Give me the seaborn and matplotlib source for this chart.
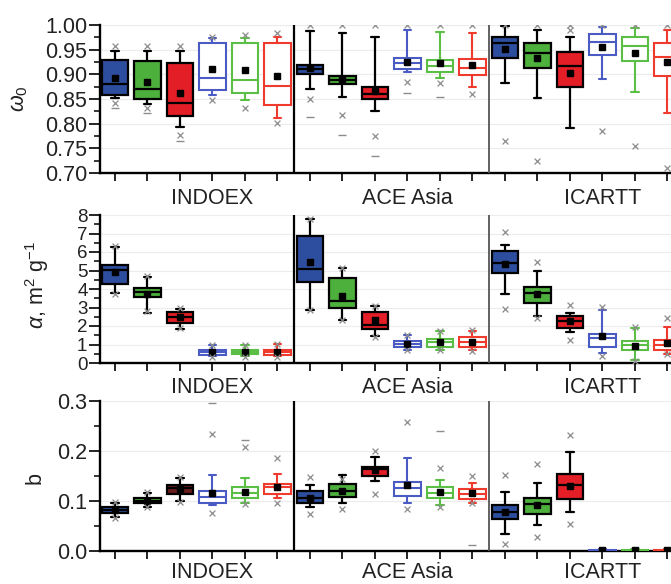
import numpy as np
import matplotlib
matplotlib.use("Agg")
import matplotlib.pyplot as plt
from matplotlib.ticker import MultipleLocator, FormatStrFormatter
import seaborn as sns

# ---------------- data ----------------
campaigns = ["INDOEX", "ACE Asia", "ICARTT"]
campaign_label_pos = [4, 10, 16]
positions = list(range(1, 19))

# Panel 1: single scattering albedo w0
w0_q1 = [0.858, 0.850, 0.815, 0.869, 0.862, 0.837, 0.901, 0.881, 0.850, 0.911, 0.904, 0.899, 0.933, 0.912, 0.875, 0.939, 0.928, 0.897]
w0_med = [0.880, 0.870, 0.842, 0.892, 0.889, 0.877, 0.910, 0.889, 0.860, 0.922, 0.916, 0.912, 0.963, 0.944, 0.917, 0.966, 0.958, 0.935]
w0_q3 = [0.929, 0.927, 0.922, 0.963, 0.963, 0.963, 0.919, 0.897, 0.874, 0.933, 0.929, 0.931, 0.976, 0.963, 0.946, 0.982, 0.975, 0.963]
w0_lo = [0.852, 0.840, 0.794, 0.858, 0.848, 0.811, 0.870, 0.854, 0.825, 0.904, 0.892, 0.875, 0.882, 0.852, 0.791, 0.891, 0.865, 0.821]
w0_hi = [0.948, 0.948, 0.948, 0.973, 0.973, 0.975, 0.987, 0.983, 0.975, 0.989, 0.985, 0.983, 0.997, 0.989, 0.976, 0.995, 0.993, 0.990]
w0_mean = [0.892, 0.885, 0.862, 0.911, 0.908, 0.897, 0.912, 0.891, 0.867, 0.926, 0.922, 0.919, 0.951, 0.933, 0.902, 0.956, 0.944, 0.924]
w0_x = [[0.958, 0.842], [0.958, 0.832], [0.958, 0.778], [0.976, 0.848], [0.980, 0.832], [0.983, 0.801],
        [1.0, 0.850], [1.0, 0.818], [1.0, 0.776], [1.0, 0.885], [1.0, 0.882], [1.0, 0.860],
        [1.0, 0.764], [1.0, 0.724], [1.0, 0.990], [1.0, 0.786], [1.0, 0.754], [1.0, 0.711]]
w0_dash = [[0.832], [0.822], [0.764], [], [], [],
           [0.813], [0.778], [0.734], [0.862], [0.854], [],
           [], [], [], [], [], []]

# Panel 2: mass absorption efficiency alpha
al_q1 = [4.28, 3.56, 2.16, 0.45, 0.47, 0.45, 4.37, 2.97, 1.83, 0.86, 0.86, 0.86, 4.85, 3.27, 1.89, 0.86, 0.68, 0.68]
al_med = [5.03, 3.83, 2.48, 0.60, 0.60, 0.60, 5.07, 3.33, 2.07, 1.04, 1.11, 1.11, 5.39, 3.81, 2.25, 1.35, 0.99, 0.99]
al_q3 = [5.30, 4.08, 2.75, 0.72, 0.72, 0.72, 6.89, 4.62, 2.73, 1.17, 1.29, 1.40, 6.06, 4.10, 2.52, 1.58, 1.17, 1.26]
al_lo = [3.78, 2.70, 1.83, 0.36, 0.36, 0.36, 2.88, 2.34, 1.44, 0.72, 0.72, 0.68, 3.72, 2.55, 1.65, 0.54, 0.14, 0.50]
al_hi = [6.26, 4.67, 2.91, 1.00, 0.98, 1.02, 7.77, 5.12, 3.06, 1.49, 1.71, 1.74, 6.38, 5.00, 2.70, 2.88, 1.89, 1.94]
al_mean = [4.93, 3.74, 2.48, 0.60, 0.60, 0.62, 5.45, 3.63, 2.30, 1.04, 1.13, 1.13, 5.36, 3.74, 2.25, 1.44, 0.93, 1.08]
al_x = [[6.30, 3.75], [4.70, 2.80], [2.95, 1.90], [1.00, 0.35], [1.00, 0.35], [1.05, 0.35],
        [7.80, 2.85], [5.15, 2.30], [3.10, 1.40], [1.50, 0.70], [1.75, 0.70], [1.80, 0.65],
        [7.07, 2.91], [5.48, 2.43], [3.15, 1.26], [3.02, 0.40], [1.94, 0.09], [2.43, 0.50]]
al_dash = [[] for _ in range(18)]

# Panel 3: b
b_q1 = [0.077, 0.096, 0.115, 0.097, 0.106, 0.115, 0.096, 0.108, 0.151, 0.110, 0.106, 0.104, 0.064, 0.074, 0.104, 0.000, 0.000, 0.000]
b_med = [0.082, 0.101, 0.126, 0.108, 0.117, 0.128, 0.106, 0.121, 0.164, 0.126, 0.117, 0.115, 0.079, 0.094, 0.133, 0.001, 0.001, 0.001]
b_q3 = [0.088, 0.106, 0.133, 0.121, 0.128, 0.135, 0.121, 0.135, 0.169, 0.139, 0.128, 0.124, 0.092, 0.107, 0.154, 0.002, 0.002, 0.002]
b_lo = [0.069, 0.089, 0.100, 0.092, 0.096, 0.106, 0.089, 0.097, 0.141, 0.096, 0.092, 0.097, 0.034, 0.052, 0.079, 0.000, 0.000, 0.000]
b_hi = [0.096, 0.117, 0.146, 0.153, 0.146, 0.154, 0.133, 0.153, 0.188, 0.186, 0.143, 0.136, 0.118, 0.137, 0.198, 0.004, 0.004, 0.004]
b_mean = [0.082, 0.101, 0.124, 0.116, 0.119, 0.128, 0.107, 0.121, 0.163, 0.133, 0.119, 0.116, 0.079, 0.092, 0.131, 0.002, 0.002, 0.002]
b_x = [[0.098, 0.066], [0.118, 0.088], [0.149, 0.098], [0.234, 0.076], [0.208, 0.094], [0.186, 0.097],
       [0.149, 0.074], [0.144, 0.084], [0.200, 0.115], [0.258, 0.084], [0.166, 0.089], [0.151, 0.097],
       [0.153, 0.015], [0.174, 0.029], [0.232, 0.054], [], [], []]
b_dash = [[], [], [], [0.297], [0.223], [],
          [], [], [], [], [0.240], [0.012],
          [], [], [], [], [], []]

# ---------------- style ----------------
sns.set_theme(style="ticks")
plt.rcParams["font.family"] = ["Liberation Sans", "DejaVu Sans"]
plt.rcParams["mathtext.fontset"] = "custom"
plt.rcParams["mathtext.rm"] = "Liberation Sans"
plt.rcParams["mathtext.it"] = "Liberation Sans:italic"
FS = 15.5

fill_cols = ["#2D4E9E", "#4DAF3C", "#E41E26"]
open_cols = ["#4A5BC4", "#5BBF45", "#EE3B2E"]
flier_col = "#8c8c8c"

fig = plt.figure(figsize=(6.71, 5.84), dpi=100)
H = 584.0
W = 671.0
left = 100 / W
width = 1 - left
ax1 = fig.add_axes([left, 1 - 173 / H, width, 148 / H])
ax2 = fig.add_axes([left, 1 - 363 / H, width, 148 / H])
ax3 = fig.add_axes([left, 1 - 551 / H, width, 150 / H])


def draw_panel(ax, q1, med, q3, lo, hi, mean, fx, fd, ylim, major, minor, fmt,
               dark_red_idx=None, tick_fs=FS, label_off=-17):
    ax.set_xlim(0.54, 18.11)
    ax.set_ylim(*ylim)
    ax.yaxis.set_major_locator(MultipleLocator(major))
    ax.yaxis.set_minor_locator(MultipleLocator(minor))
    if fmt:
        ax.yaxis.set_major_formatter(FormatStrFormatter(fmt))
    ax.grid(axis="y", color="#ececec", lw=0.8, zorder=0)
    ax.set_axisbelow(True)
    for i in range(18):
        k = i % 6
        filled = k < 3
        if filled:
            face = fill_cols[k]
            if dark_red_idx is not None and i == dark_red_idx:
                face = "#6A1C1A"
            edge = "black"
            line = "black"
            lw = 1.6
        else:
            face = "white"
            edge = open_cols[k - 3]
            line = open_cols[k - 3]
            lw = 1.5
        st = dict(q1=q1[i], med=med[i], q3=q3[i], whislo=lo[i], whishi=hi[i], mean=mean[i], fliers=[])
        ax.bxp([st], positions=[positions[i]], widths=0.82, capwidths=0.22,
               showmeans=True, showfliers=False, patch_artist=True,
               boxprops=dict(facecolor=face, edgecolor=edge, linewidth=lw),
               medianprops=dict(color=line, linewidth=lw),
               whiskerprops=dict(color=line, linewidth=lw),
               capprops=dict(color=line, linewidth=lw),
               meanprops=dict(marker="s", markerfacecolor="black", markeredgecolor="black", markersize=4.2),
               manage_ticks=False, zorder=3)
        if fx[i]:
            ax.scatter([positions[i]] * len(fx[i]), fx[i], marker="x", s=18, color=flier_col,
                       linewidths=0.9, zorder=4)
        if fd[i]:
            ax.scatter([positions[i]] * len(fd[i]), fd[i], marker="_", s=30, color=flier_col,
                       linewidths=1.0, zorder=4)
    ax.axvline(6.5, color="black", lw=1.6, zorder=5)
    ax.axvline(12.5, color="#555555", lw=1.3, zorder=5)
    ax.set_xticks(positions)
    ax.set_xticklabels([])
    ax.tick_params(axis="x", direction="out", length=6, width=1.2, color="black")
    ax.tick_params(axis="y", which="major", direction="out", length=8, width=1.2,
                   color="black", labelsize=tick_fs, pad=1, labelcolor="#222222")
    ax.tick_params(axis="y", which="minor", direction="out", length=4.5, width=1.1, color="black")
    for s in ["top", "right"]:
        ax.spines[s].set_visible(False)
    for s in ["left", "bottom"]:
        ax.spines[s].set_linewidth(1.7)
        ax.spines[s].set_color("black")
    for name, p in zip(campaigns, campaign_label_pos):
        ax.annotate(name, xy=(p, 0), xycoords=ax.get_xaxis_transform(),
                    xytext=(0, label_off), textcoords="offset points",
                    ha="center", va="center", fontsize=FS, color="#222222",
                    annotation_clip=False)


draw_panel(ax1, w0_q1, w0_med, w0_q3, w0_lo, w0_hi, w0_mean, w0_x, w0_dash,
           (0.70, 1.00), 0.05, 0.025, "%.2f", label_off=-18)
draw_panel(ax2, al_q1, al_med, al_q3, al_lo, al_hi, al_mean, al_x, al_dash,
           (0, 8), 1, 0.5, "%d", tick_fs=13.5, label_off=-17.5)
draw_panel(ax3, b_q1, b_med, b_q3, b_lo, b_hi, b_mean, b_x, b_dash,
           (0, 0.3), 0.1, 0.05, "%.1f", dark_red_idx=2, label_off=-15.5)

fig.text(20 / W, 1 - 99 / H, r"$\omega_0$", rotation=90, ha="center", va="center", fontsize=FS, color="#222222")
fig.text(37 / W, 1 - 285 / H, r"$\alpha$, m$^2$ g$^{-1}$", rotation=90, ha="center", va="center",
         fontsize=FS, color="#222222")
fig.text(35 / W, 1 - 478 / H, "b", rotation=90, ha="center", va="center", fontsize=FS, color="#222222")

fig.savefig("out.png", dpi=100)
